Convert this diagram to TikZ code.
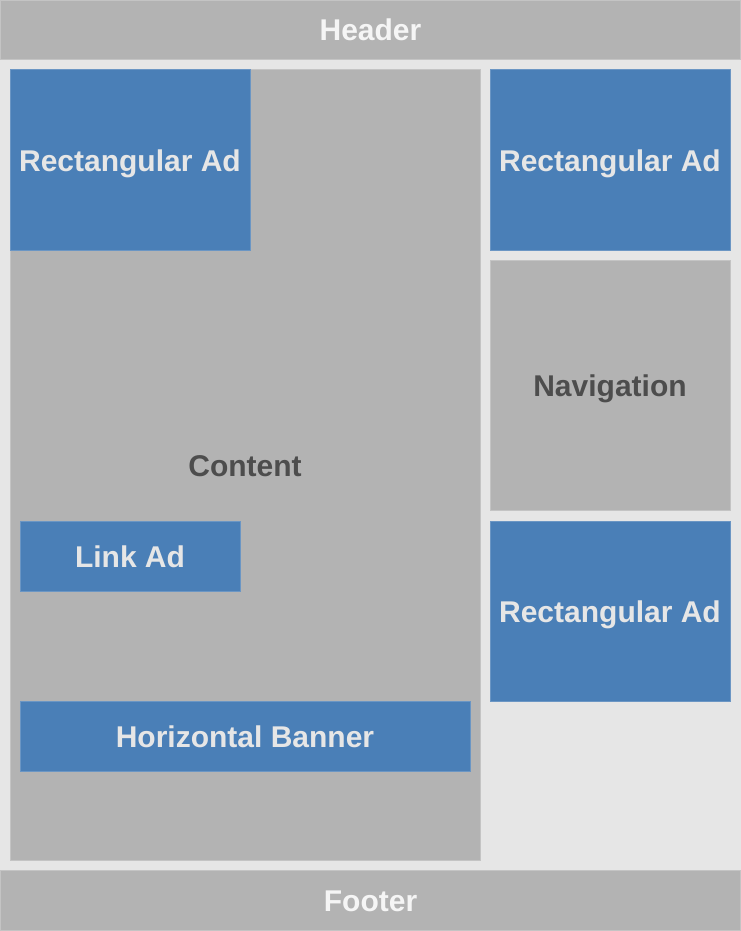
\documentclass[tikz,border=0pt]{standalone}
\usepackage{fontspec}
\setmainfont{Liberation Sans}
\definecolor{pagebg}{HTML}{E6E6E6}
\definecolor{slot}{HTML}{B3B3B3}
\definecolor{slotedge}{HTML}{C4C4C4}
\definecolor{adblue}{HTML}{4A7FB7}
\definecolor{adedge}{HTML}{6B96C4}
\definecolor{darktext}{HTML}{4D4D4D}
\tikzset{
    region/.style={fill=slot, draw=slotedge, line width=1pt, inner sep=0pt,
                   text height=22pt, text depth=0pt,
                   font=\fontsize{30}{35}\selectfont\bfseries},
    bar/.style={region, text=white!96!black},
    block/.style={region, text=darktext},
    ad/.style={region, fill=adblue, draw=adedge, text=pagebg}
}

\begin{document}
\begin{tikzpicture}[x=1pt, y=-1pt]
        \fill[pagebg] (0,0) rectangle (741,931);
        \useasboundingbox (0,0) rectangle (741,931);

        \node[bar, minimum width=740, minimum height=59] (header) at (370.5,30) {Header};
        \node[bar, minimum width=740, minimum height=60] (footer) at (370.5,900.5) {Footer};

        \node[block, minimum width=470, minimum height=790] (content) at (245,465) {Content};
        \node[block, minimum width=240, minimum height=250] (nav) at (610,385) {Navigation};

        \node[ad, minimum width=240, minimum height=180] (adleft) at (130,160) {Rectangular Ad};
        \node[ad, minimum width=240, minimum height=180] (adtop) at (610,160) {Rectangular Ad};
        \node[ad, minimum width=240, minimum height=180] (adbottom) at (610,611) {Rectangular Ad};
        \node[ad, minimum width=220, minimum height=70] (linkad) at (130,556) {Link Ad};
        \node[ad, minimum width=450, minimum height=70] (banner) at (245,736) {Horizontal Banner};
    \end{tikzpicture}
\end{document}
